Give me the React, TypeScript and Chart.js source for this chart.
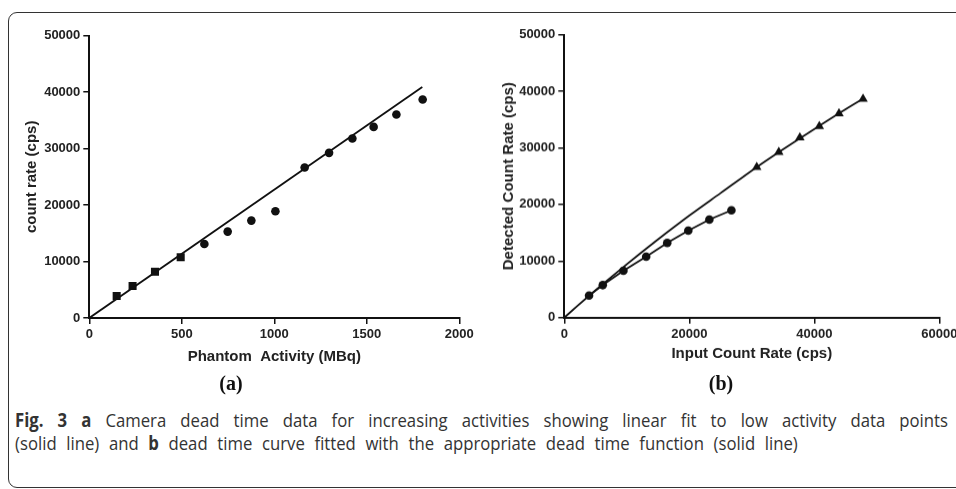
import React, { useEffect, useRef } from 'react';
import { Chart, registerables } from 'chart.js';

Chart.register(...registerables);

// ---- Panel (a): count rate vs phantom activity ----
const leftSquareX = [148, 234, 355, 494];
const leftSquareY = [3900, 5670, 8200, 10750];
const leftCircleX = [622, 748, 876, 1006, 1164, 1296, 1422, 1537, 1660, 1802];
const leftCircleY = [13100, 15300, 17250, 18900, 26650, 29250, 31800, 33850, 36050, 38700];
const leftFitX = [0, 1800];
const leftFitY = [0, 40900];
const leftXTicks = [0, 500, 1000, 1500, 2000];
const leftYTicks = [0, 10000, 20000, 30000, 40000, 50000];

// ---- Panel (b): detected vs input count rate ----
const rightCircleX = [3960, 6160, 9460, 13100, 16470, 19840, 23210, 26740];
const rightCircleY = [3900, 5740, 8280, 10760, 13190, 15370, 17320, 18970];
const rightTriangleX = [30790, 34320, 37690, 40800, 43950, 47800];
const rightTriangleY = [26600, 29250, 31800, 33810, 36060, 38650];
const rightCurveX = [0, 2000, 4000, 6000, 9000, 12000, 15000, 20000, 25000, 30790, 34320, 37690, 40800, 43950, 47800];
const rightCurveY = [0, 1970, 3890, 5770, 8530, 11215, 13825, 18025, 22000, 26600, 29250, 31700, 33900, 36100, 38700];
const rightXTicks = [0, 20000, 40000, 60000];
const rightYTicks = [0, 10000, 20000, 30000, 40000, 50000];

const FONT = '"Liberation Sans", Arial, Helvetica, sans-serif';
const INK = '#111';
const TEXT = '#222';

const pts = (xs: number[], ys: number[]) => xs.map((x, i) => ({ x, y: ys[i] }));

function axis(ticks: number[], title: string, fixed: { width?: number; height?: number }, titlePad: any) {
  return {
    type: 'linear',
    min: ticks[0],
    max: ticks[ticks.length - 1],
    afterBuildTicks: (s: any) => {
      s.ticks = ticks.map((v) => ({ value: v }));
    },
    ticks: {
      color: TEXT,
      font: { family: FONT, size: 13, weight: 'bold' },
      padding: 3,
      maxRotation: 0,
      autoSkip: false,
      callback: (v: any) => String(v),
    },
    grid: {
      display: true,
      drawOnChartArea: false,
      drawTicks: true,
      tickLength: 6,
      color: INK,
      lineWidth: 1.5,
    },
    border: { display: true, color: INK, width: 2 },
    title: {
      display: true,
      text: title,
      color: TEXT,
      font: { family: FONT, size: 15, weight: 'bold' },
      padding: titlePad,
    },
    afterFit: (s: any) => {
      if (fixed.width !== undefined) s.width = fixed.width;
      if (fixed.height !== undefined) s.height = fixed.height;
    },
  };
}

function ChartCanvas({ config, style }: { config: any; style: React.CSSProperties }) {
  const ref = useRef<HTMLCanvasElement>(null);
  useEffect(() => {
    if (!ref.current) return;
    const chart = new Chart(ref.current, config);
    return () => chart.destroy();
  }, []);
  return (
    <div style={{ position: 'absolute', ...style }}>
      <canvas ref={ref} />
    </div>
  );
}

const commonPlugins = { legend: { display: false }, tooltip: { enabled: false } };

const leftConfig = {
  type: 'scatter',
  data: {
    datasets: [
      {
        data: pts(leftFitX, leftFitY),
        showLine: true,
        borderColor: INK,
        borderWidth: 1.8,
        pointRadius: 0,
      },
      {
        data: pts(leftSquareX, leftSquareY),
        pointStyle: 'rect',
        pointRadius: 5.7,
        backgroundColor: INK,
        borderColor: INK,
        borderWidth: 0,
      },
      {
        data: pts(leftCircleX, leftCircleY),
        pointStyle: 'circle',
        pointRadius: 4.3,
        backgroundColor: INK,
        borderColor: INK,
        borderWidth: 0,
      },
    ],
  },
  options: {
    animation: false,
    responsive: true,
    maintainAspectRatio: false,
    layout: { padding: { top: 15.7, right: 29.7, bottom: 0, left: 0 } },
    plugins: commonPlugins,
    scales: {
      x: axis(leftXTicks, 'Phantom  Activity (MBq)', { height: 60 }, { top: 4, bottom: 12 }),
      y: axis(leftYTicks, 'count rate (cps)', { width: 70.3 }, { top: 4, bottom: 4 }),
    },
  },
};

const rightConfig = {
  type: 'scatter',
  data: {
    datasets: [
      {
        data: pts(rightCurveX, rightCurveY),
        showLine: true,
        cubicInterpolationMode: 'monotone',
        borderColor: INK,
        borderWidth: 1.8,
        pointRadius: 0,
      },
      {
        data: pts(rightCircleX, rightCircleY),
        showLine: true,
        borderColor: INK,
        borderWidth: 1.8,
        pointStyle: 'circle',
        pointRadius: 4.3,
        backgroundColor: INK,
        pointBorderWidth: 0,
      },
      {
        data: pts(rightTriangleX, rightTriangleY),
        pointStyle: 'triangle',
        pointRadius: 5.5,
        backgroundColor: INK,
        borderColor: INK,
        borderWidth: 0,
      },
    ],
  },
  options: {
    animation: false,
    responsive: true,
    maintainAspectRatio: false,
    layout: { padding: { top: 14.7, right: 30, bottom: 0, left: 0 } },
    plugins: commonPlugins,
    scales: {
      x: axis(rightXTicks, 'Input Count Rate (cps)', { height: 60 }, { top: 4, bottom: 14.4 }),
      y: axis(rightYTicks, 'Detected Count Rate (cps)', { width: 68.3 }, { top: 4, bottom: 4 }),
    },
  },
};

const CAPTION_FONT = '"Open Sans", "Noto Sans", sans-serif';
const SCALE_X = 0.88;

const captionLine: React.CSSProperties = {
  position: 'absolute',
  left: 15,
  whiteSpace: 'nowrap',
  fontFamily: CAPTION_FONT,
  fontSize: 19,
  lineHeight: '23px',
  color: '#333',
  transform: `scaleX(${SCALE_X})`,
  transformOrigin: '0 0',
};

const panelLabel: React.CSSProperties = {
  position: 'absolute',
  top: 370,
  width: 100,
  textAlign: 'center',
  font: 'bold 20px "Liberation Serif", "Times New Roman", serif',
  lineHeight: '26px',
  color: '#111',
};

export default function App() {
  return (
    <div
      style={{
        position: 'absolute',
        left: 0,
        top: 0,
        width: 956,
        height: 489,
        overflow: 'hidden',
        background: '#fff',
      }}
    >
      <div
        style={{
          position: 'absolute',
          left: 8,
          top: 12,
          width: 980,
          height: 476,
          border: '1.5px solid #333',
          borderRadius: 9,
          boxSizing: 'border-box',
        }}
      />
      <ChartCanvas config={leftConfig} style={{ left: 19, top: 20, width: 470, height: 358 }} />
      <ChartCanvas config={rightConfig} style={{ left: 496, top: 20, width: 473.3, height: 356.7 }} />
      <div style={{ ...panelLabel, left: 181 }}>(a)</div>
      <div style={{ ...panelLabel, left: 671 }}>(b)</div>
      <div
        style={{
          ...captionLine,
          top: 409,
          width: 933 / SCALE_X,
          textAlign: 'justify',
          textAlignLast: 'justify',
        }}
      >
        <b>Fig. 3 a</b> Camera dead time data for increasing activities showing linear fit to low activity data points
      </div>
      <div style={{ ...captionLine, top: 432, wordSpacing: 6 }}>
        (solid line) and <b>b</b> dead time curve fitted with the appropriate dead time function (solid line)
      </div>
    </div>
  );
}
